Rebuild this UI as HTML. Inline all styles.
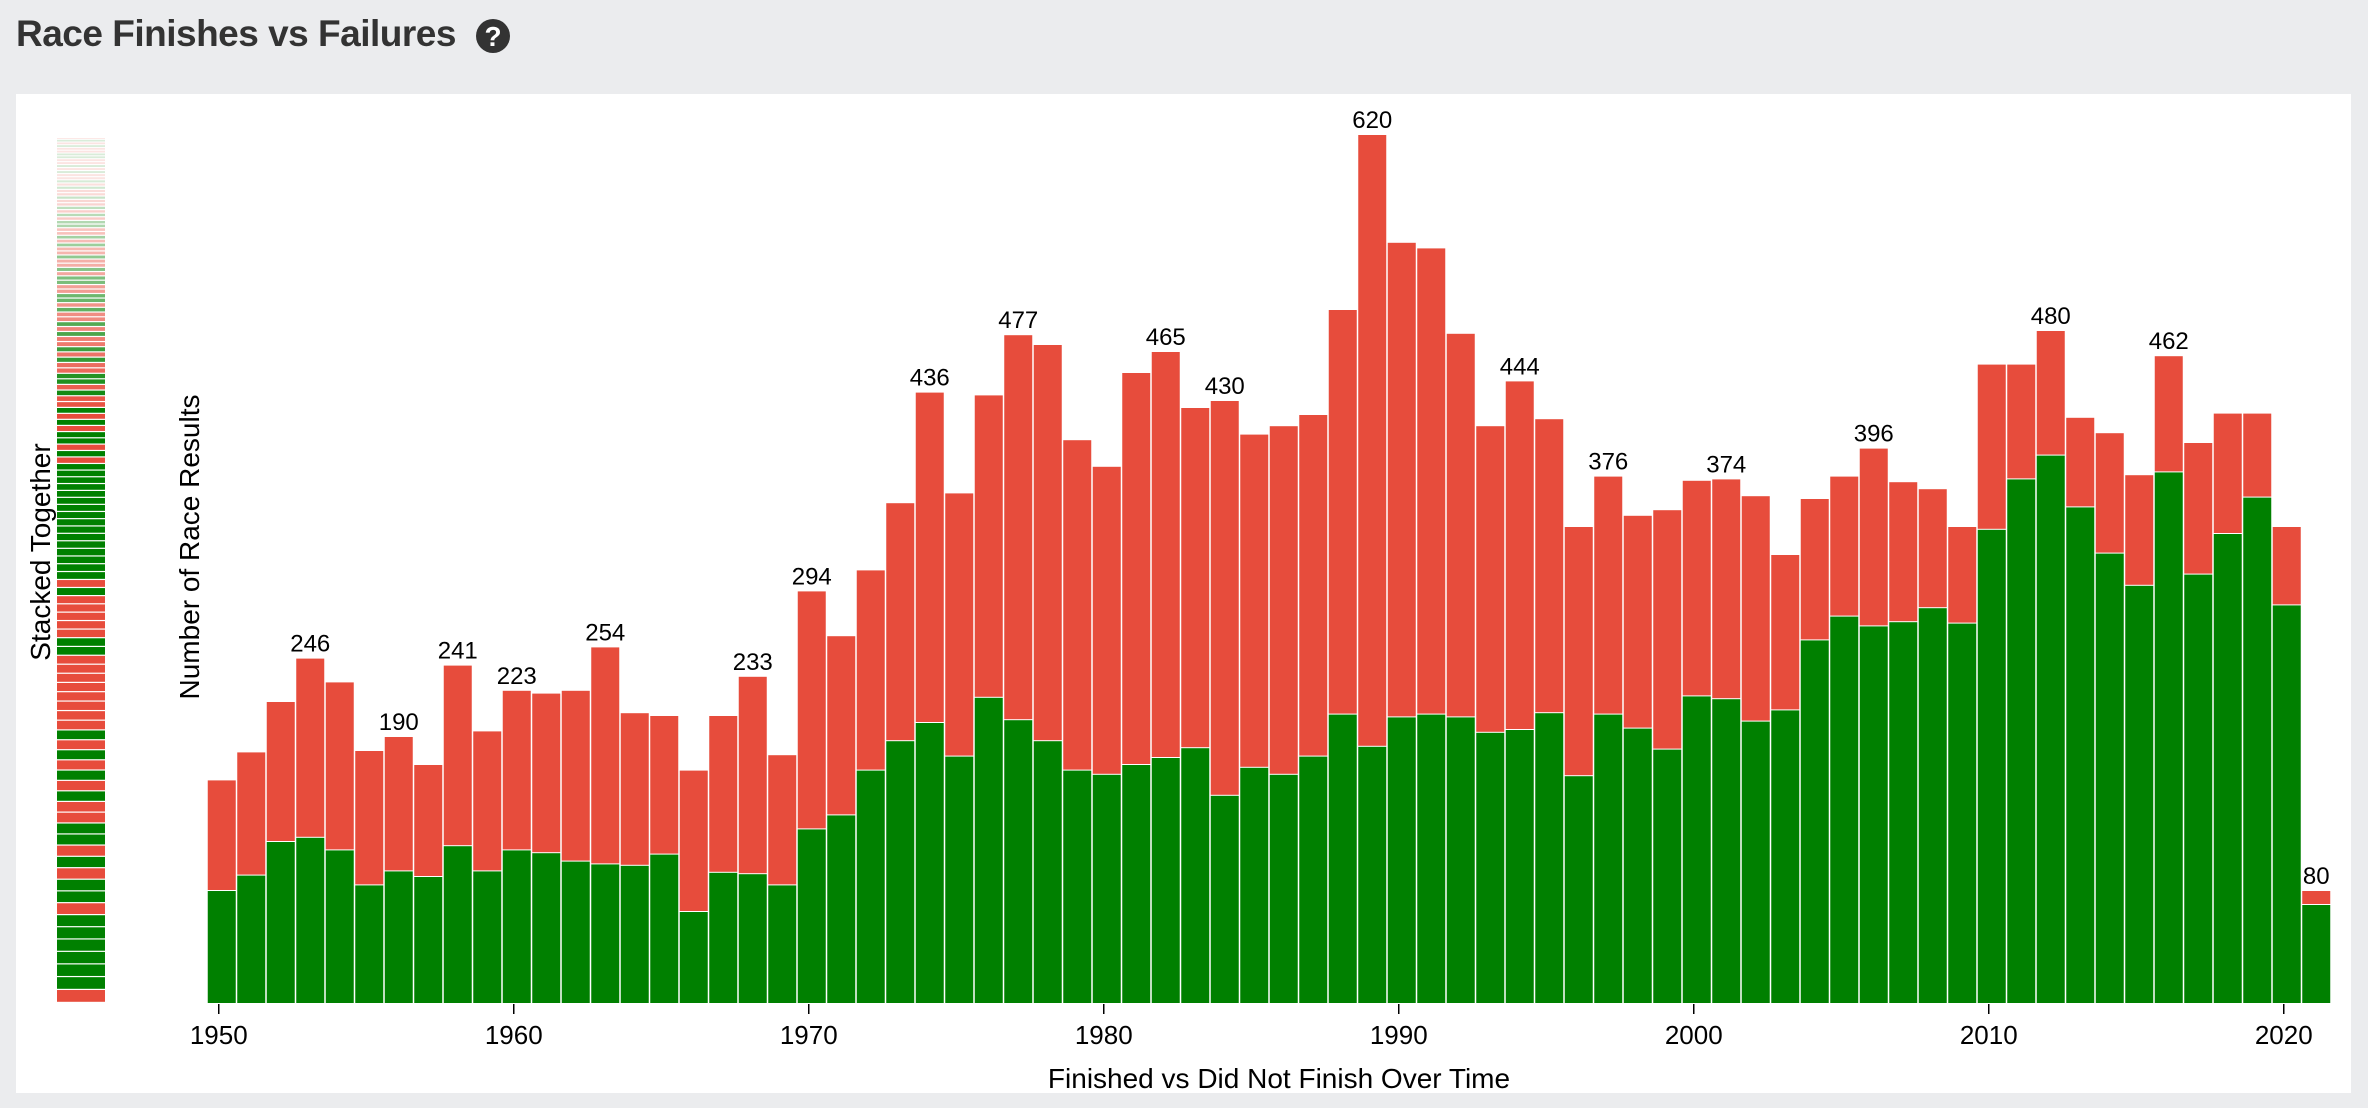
<!DOCTYPE html>
<html><head><meta charset="utf-8"><style>
html,body{margin:0;padding:0;background:#ebecee;width:2368px;height:1108px;overflow:hidden;font-family:"Liberation Sans",sans-serif}
#title{position:absolute;left:16px;top:13px;font-size:37px;font-weight:bold;color:#333;letter-spacing:-0.5px}
#help{position:absolute;left:476px;top:19px;width:34px;height:34px;border-radius:50%;background:#333;color:#fff;font-weight:bold;font-size:28px;text-align:center;line-height:35px}
#card{position:absolute;left:16px;top:94px;width:2335px;height:999px;background:#fff}
svg{position:absolute;left:0;top:0}
</style></head><body>
<div id="title">Race Finishes vs Failures</div>
<div id="help">?</div>
<div id="card"></div>
<svg id="chart" width="2368" height="1108"></svg>
<script>
const years = [];
for (let y = 1950; y <= 2021; y++) years.push(y);
const totals = [159,179,215,246,229,180,190,170,241,194,223,221,223,254,207,205,166,205,233,177,294,262,309,357,436,364,434,477,470,402,383,450,465,425,430,406,412,420,495,620,543,539,478,412,444,417,340,376,348,352,373,374,362,320,360,376,396,372,367,340,456,456,480,418,407,377,462,400,421,421,340,80];
const finished = [80,91,115,118,109,84,94,90,112,94,109,107,101,99,98,106,65,93,92,84,124,134,166,187,200,176,218,202,187,166,163,170,175,182,148,168,163,176,206,183,204,206,204,193,195,207,162,206,196,181,219,217,201,209,259,276,269,272,282,271,338,374,391,354,321,298,379,306,335,361,284,70];
const labelYears = [1953,1956,1958,1960,1963,1968,1970,1974,1977,1982,1984,1989,1994,1997,2001,2006,2012,2016,2021];
const xTicks = [1950,1960,1970,1980,1990,2000,2010,2020];
const stripPattern = "RGGGGGGRGGRGRGGRRGRGRGRGRRRRRRRRGGRRRRRGRGGGGGGGGGGGGGGGGRGRGGRGRGRRGRGGRRGRGRRGRGRRGRGGRRGGRGRRGRRGRGRRGGRGRGRRGRRGRGRRGRGRRGGRRGRGRRGRRGRRGRGRGRRGRGRRGRGGRRGRRGRGRRGRGGRRGRRGRGRRGRGRRGRR";

const NS = "http://www.w3.org/2000/svg";
const svg = document.getElementById('chart');
const RED = "#e74c3c", GREEN = "#008000";
const x0 = 207, step = 29.5, base = 1003, pxPer = 868 / 620;
const xScale = yr => x0 + (yr - 1950) * step;
const yScale = v => base - v * pxPer;
function mk(tag, attrs){const e=document.createElementNS(NS,tag);for(const k in attrs)e.setAttribute(k,attrs[k]);svg.appendChild(e);return e;}

years.forEach((yr,i)=>{
  const x = xScale(yr)+0.75, w = step-1.5;
  const r = mk('rect',{x:x,y:yScale(totals[i]),width:w,height:(totals[i]-finished[i])*pxPer-1,fill:RED});
  
  
  const g = mk('rect',{x:x,y:yScale(finished[i]),width:w,height:finished[i]*pxPer,fill:GREEN});
  
  
  if (labelYears.includes(yr)) {
    const t = mk('text',{x:xScale(yr)+step/2,y:yScale(totals[i])-7,'text-anchor':'middle','font-size':24,fill:'#000'});
    t.textContent = totals[i];
    
    
  }
});
xTicks.forEach(yr=>{
  const cx = xScale(yr)+step/2 - 3;
  const l = mk('line',{x1:cx,x2:cx,y1:1004,y2:1014,stroke:'#000','stroke-width':1.5});
  
  
  const t = mk('text',{x:cx,y:1044,'text-anchor':'middle','font-size':26,fill:'#000'});
  t.textContent = yr;
  
  
});
const xt = mk('text',{x:1279,y:1088,'text-anchor':'middle','font-size':28,fill:'#000'});
xt.textContent = 'Finished vs Did Not Finish Over Time';


const yt = mk('text',{x:0,y:0,'text-anchor':'middle','font-size':28,fill:'#000',transform:'translate(199,547) rotate(-90)'});
yt.textContent = 'Number of Race Results';


const st = mk('text',{x:0,y:0,'text-anchor':'middle','font-size':28,fill:'#000',transform:'translate(50,552) rotate(-90)'});
st.textContent = 'Stacked Together';



// stacked strip
let yb = 1003, h = 13, k = 0;
while (yb > 139) {
  const hh = Math.max(h, 2);
  const top = Math.max(yb - hh, 138);
  const op = yb < 420 ? Math.max(0.15, (yb - 138) / 282) : 1;
  const c = stripPattern[k % stripPattern.length];
  const s = mk('rect',{x:57,y:top,width:48,height:Math.max(yb-top-Math.min(1.2,hh*0.35),0.5),fill:c==='R'?RED:GREEN,opacity:op});
  
  
  yb = top; h *= 0.988; k++;
}
</script>
</body></html>
